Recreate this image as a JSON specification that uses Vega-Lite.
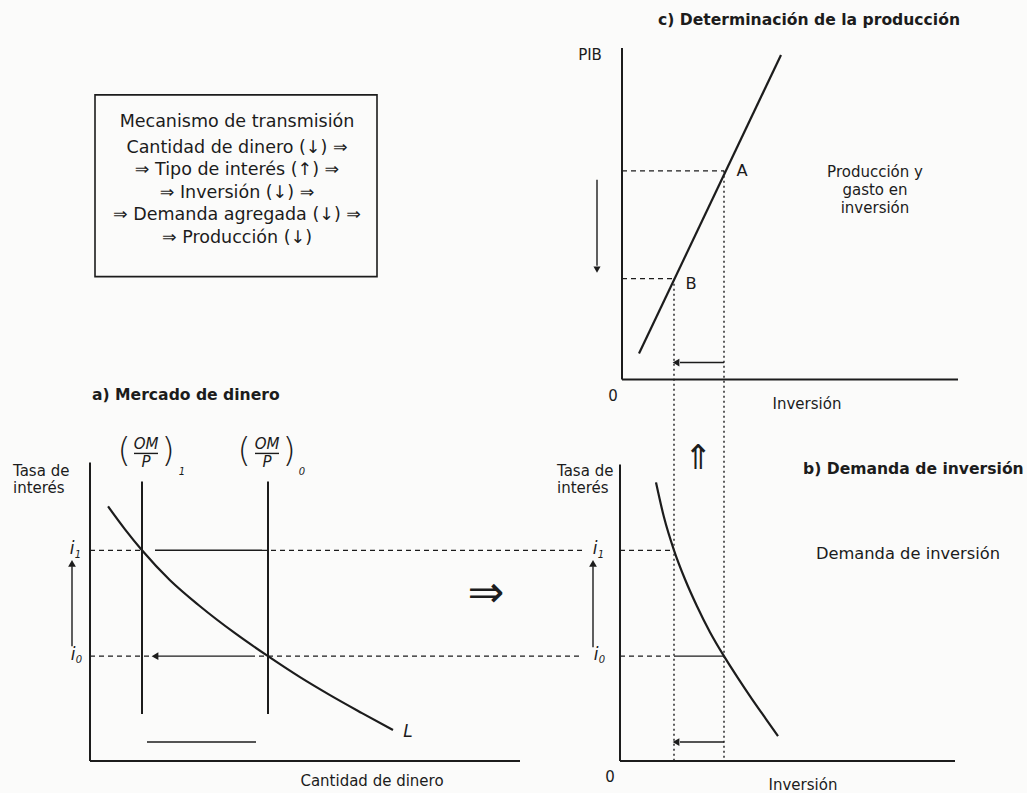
{
  "$schema": "https://vega.github.io/schema/vega-lite/v6.json",
  "width": 1027,
  "height": 793,
  "padding": 0,
  "autosize": {"type": "fit", "contains": "padding"},
  "background": "#fbfbfa",
  "config": {"view": {"stroke": null}},
  "datasets": {
    "box": [{"x": 95, "y": 95, "x2": 377, "y2": 277}],
    "segments": [
      {"kind": "axis", "x": 90, "y": 463, "x2": 90, "y2": 762},
      {"kind": "axis", "x": 90, "y": 762, "x2": 520, "y2": 762},
      {"kind": "axis", "x": 142, "y": 482, "x2": 142, "y2": 715},
      {"kind": "axis", "x": 268, "y": 482, "x2": 268, "y2": 715},
      {"kind": "axis", "x": 620, "y": 465, "x2": 620, "y2": 762},
      {"kind": "axis", "x": 620, "y": 762, "x2": 955, "y2": 762},
      {"kind": "axis", "x": 622, "y": 48, "x2": 622, "y2": 380},
      {"kind": "axis", "x": 622, "y": 380, "x2": 958, "y2": 380},
      {"kind": "thin", "x": 147, "y": 743, "x2": 256, "y2": 743},
      {"kind": "thin", "x": 155, "y": 551, "x2": 262, "y2": 551},
      {"kind": "thin", "x": 158, "y": 657, "x2": 250, "y2": 657},
      {"kind": "thin", "x": 72, "y": 647, "x2": 72, "y2": 567},
      {"kind": "thin", "x": 674, "y": 657, "x2": 724, "y2": 657},
      {"kind": "thin", "x": 680, "y": 743, "x2": 724, "y2": 743},
      {"kind": "thin", "x": 593, "y": 648, "x2": 593, "y2": 567},
      {"kind": "thin", "x": 680, "y": 363, "x2": 724, "y2": 363},
      {"kind": "thin", "x": 597, "y": 180, "x2": 597, "y2": 266},
      {"kind": "thin", "x": 134, "y": 454, "x2": 158, "y2": 454},
      {"kind": "thin", "x": 255, "y": 454, "x2": 279, "y2": 454},
      {"kind": "dashed", "x": 90, "y": 551, "x2": 142, "y2": 551},
      {"kind": "dashed", "x": 262, "y": 551, "x2": 582, "y2": 551},
      {"kind": "dashed", "x": 90, "y": 657, "x2": 152, "y2": 657},
      {"kind": "dashed", "x": 250, "y": 657, "x2": 580, "y2": 657},
      {"kind": "dashed", "x": 620, "y": 551, "x2": 674, "y2": 551},
      {"kind": "dashed", "x": 620, "y": 657, "x2": 674, "y2": 657},
      {"kind": "dashed", "x": 622, "y": 171, "x2": 724, "y2": 171},
      {"kind": "dashed", "x": 622, "y": 279, "x2": 674, "y2": 279},
      {"kind": "dotted", "x": 724, "y": 171, "x2": 724, "y2": 762},
      {"kind": "dotted", "x": 674, "y": 279, "x2": 674, "y2": 762}
    ],
    "curves": [
      {"curve": "L", "x": 108, "y": 507},
      {"curve": "L", "x": 125, "y": 530},
      {"curve": "L", "x": 142, "y": 551},
      {"curve": "L", "x": 170, "y": 581},
      {"curve": "L", "x": 200, "y": 607},
      {"curve": "L", "x": 235, "y": 634},
      {"curve": "L", "x": 268, "y": 657},
      {"curve": "L", "x": 300, "y": 678},
      {"curve": "L", "x": 330, "y": 696},
      {"curve": "L", "x": 362, "y": 714},
      {"curve": "L", "x": 393, "y": 731},
      {"curve": "DI", "x": 656, "y": 483},
      {"curve": "DI", "x": 664, "y": 518},
      {"curve": "DI", "x": 674, "y": 551},
      {"curve": "DI", "x": 685, "y": 580},
      {"curve": "DI", "x": 697, "y": 607},
      {"curve": "DI", "x": 710, "y": 633},
      {"curve": "DI", "x": 724, "y": 657},
      {"curve": "DI", "x": 738, "y": 679},
      {"curve": "DI", "x": 752, "y": 700},
      {"curve": "DI", "x": 766, "y": 720},
      {"curve": "DI", "x": 778, "y": 737},
      {"curve": "PIB", "x": 639, "y": 354},
      {"curve": "PIB", "x": 781, "y": 55}
    ],
    "heads": [
      {"dir": "left", "x": 155, "y": 657},
      {"dir": "left", "x": 676, "y": 743},
      {"dir": "left", "x": 676, "y": 363},
      {"dir": "up", "x": 72, "y": 564},
      {"dir": "up", "x": 593, "y": 564},
      {"dir": "down", "x": 597, "y": 270}
    ],
    "texts": [
      {"role": "box", "x": 237, "y": 122, "t": "Mecanismo de transmisión"},
      {"role": "box", "x": 237, "y": 148, "t": "Cantidad de dinero (↓) ⇒"},
      {"role": "box", "x": 237, "y": 170, "t": "⇒ Tipo de interés (↑) ⇒"},
      {"role": "box", "x": 237, "y": 193, "t": "⇒ Inversión (↓) ⇒"},
      {"role": "box", "x": 237, "y": 215, "t": "⇒ Demanda agregada (↓) ⇒"},
      {"role": "box", "x": 237, "y": 238, "t": "⇒ Producción (↓)"},
      {"role": "titleC", "x": 809, "y": 20, "t": "c) Determinación de la producción"},
      {"role": "titleL", "x": 92, "y": 395, "t": "a) Mercado de dinero"},
      {"role": "titleL", "x": 803, "y": 470, "t": "b) Demanda de inversión"},
      {"role": "labelL", "x": 13, "y": 472, "t": "Tasa de"},
      {"role": "labelL", "x": 13, "y": 489, "t": "interés"},
      {"role": "labelL", "x": 557, "y": 472, "t": "Tasa de"},
      {"role": "labelL", "x": 557, "y": 489, "t": "interés"},
      {"role": "label", "x": 372, "y": 782, "t": "Cantidad de dinero"},
      {"role": "label", "x": 803, "y": 786, "t": "Inversión"},
      {"role": "label", "x": 807, "y": 405, "t": "Inversión"},
      {"role": "label", "x": 590, "y": 55, "t": "PIB"},
      {"role": "label", "x": 610, "y": 778, "t": "0"},
      {"role": "label", "x": 613, "y": 396, "t": "0"},
      {"role": "note3", "x": 875, "y": 172, "t": "Producción y"},
      {"role": "note3", "x": 875, "y": 190, "t": "gasto en"},
      {"role": "note3", "x": 875, "y": 208, "t": "inversión"},
      {"role": "note", "x": 908, "y": 555, "t": "Demanda de inversión"},
      {"role": "note", "x": 742, "y": 171, "t": "A"},
      {"role": "note", "x": 691, "y": 284, "t": "B"},
      {"role": "ital", "x": 408, "y": 733, "t": "L"},
      {"role": "ital", "x": 72, "y": 550, "t": "i"},
      {"role": "ital", "x": 73, "y": 656, "t": "i"},
      {"role": "ital", "x": 595, "y": 550, "t": "i"},
      {"role": "ital", "x": 596, "y": 656, "t": "i"},
      {"role": "sub", "x": 78, "y": 556, "t": "1"},
      {"role": "sub", "x": 79, "y": 661, "t": "0"},
      {"role": "sub", "x": 601, "y": 556, "t": "1"},
      {"role": "sub", "x": 602, "y": 661, "t": "0"},
      {"role": "frac", "x": 146, "y": 445, "t": "OM"},
      {"role": "frac", "x": 146, "y": 463, "t": "P"},
      {"role": "frac", "x": 267, "y": 445, "t": "OM"},
      {"role": "frac", "x": 267, "y": 463, "t": "P"},
      {"role": "sub", "x": 182, "y": 473, "t": "1"},
      {"role": "sub", "x": 302, "y": 473, "t": "0"},
      {"role": "paren", "x": 124, "y": 453, "t": "("},
      {"role": "paren", "x": 168, "y": 453, "t": ")"},
      {"role": "paren", "x": 244, "y": 453, "t": "("},
      {"role": "paren", "x": 289, "y": 453, "t": ")"},
      {"role": "bigR", "x": 486, "y": 595, "t": "⇒"},
      {"role": "bigU", "x": 698, "y": 460, "t": "⇑"}
    ]
  },
  "layer": [
    {
      "data": {"name": "box"},
      "mark": {"type": "rect", "fillOpacity": 0, "stroke": "#1c1c1c", "strokeWidth": 1.6},
      "encoding": {
        "x": {"field": "x", "type": "quantitative", "scale": {"domain": [0, 1027], "nice": false, "zero": false}, "axis": null},
        "y": {"field": "y", "type": "quantitative", "scale": {"domain": [0, 793], "reverse": true, "nice": false, "zero": false}, "axis": null},
        "x2": {"field": "x2"},
        "y2": {"field": "y2"}
      }
    },
    {
      "data": {"name": "segments"},
      "transform": [{"filter": "datum.kind === 'axis'"}],
      "mark": {"type": "rule", "color": "#1c1c1c", "strokeWidth": 2},
      "encoding": {
        "x": {"field": "x", "type": "quantitative"},
        "y": {"field": "y", "type": "quantitative"},
        "x2": {"field": "x2"},
        "y2": {"field": "y2"}
      }
    },
    {
      "data": {"name": "segments"},
      "transform": [{"filter": "datum.kind === 'thin'"}],
      "mark": {"type": "rule", "color": "#1c1c1c", "strokeWidth": 1.4},
      "encoding": {
        "x": {"field": "x", "type": "quantitative"},
        "y": {"field": "y", "type": "quantitative"},
        "x2": {"field": "x2"},
        "y2": {"field": "y2"}
      }
    },
    {
      "data": {"name": "segments"},
      "transform": [{"filter": "datum.kind === 'dashed'"}],
      "mark": {"type": "rule", "color": "#1c1c1c", "strokeWidth": 1.3, "strokeDash": [5, 4]},
      "encoding": {
        "x": {"field": "x", "type": "quantitative"},
        "y": {"field": "y", "type": "quantitative"},
        "x2": {"field": "x2"},
        "y2": {"field": "y2"}
      }
    },
    {
      "data": {"name": "segments"},
      "transform": [{"filter": "datum.kind === 'dotted'"}],
      "mark": {"type": "rule", "color": "#1c1c1c", "strokeWidth": 1.4, "strokeDash": [2, 3]},
      "encoding": {
        "x": {"field": "x", "type": "quantitative"},
        "y": {"field": "y", "type": "quantitative"},
        "x2": {"field": "x2"},
        "y2": {"field": "y2"}
      }
    },
    {
      "data": {"name": "curves"},
      "mark": {"type": "line", "color": "#1c1c1c", "strokeWidth": 2.2, "interpolate": "monotone"},
      "encoding": {
        "x": {"field": "x", "type": "quantitative"},
        "y": {"field": "y", "type": "quantitative"},
        "detail": {"field": "curve"},
        "order": {"field": "x", "type": "quantitative"}
      }
    },
    {
      "data": {"name": "heads"},
      "transform": [{"filter": "datum.dir === 'left'"}],
      "mark": {"type": "point", "shape": "triangle-left", "filled": true, "color": "#1c1c1c", "size": 60, "opacity": 1},
      "encoding": {"x": {"field": "x", "type": "quantitative"}, "y": {"field": "y", "type": "quantitative"}}
    },
    {
      "data": {"name": "heads"},
      "transform": [{"filter": "datum.dir === 'up'"}],
      "mark": {"type": "point", "shape": "triangle-up", "filled": true, "color": "#1c1c1c", "size": 60, "opacity": 1},
      "encoding": {"x": {"field": "x", "type": "quantitative"}, "y": {"field": "y", "type": "quantitative"}}
    },
    {
      "data": {"name": "heads"},
      "transform": [{"filter": "datum.dir === 'down'"}],
      "mark": {"type": "point", "shape": "triangle-down", "filled": true, "color": "#1c1c1c", "size": 50, "opacity": 1},
      "encoding": {"x": {"field": "x", "type": "quantitative"}, "y": {"field": "y", "type": "quantitative"}}
    },
    {
      "data": {"name": "texts"},
      "transform": [{"filter": "datum.role === 'box'"}],
      "mark": {"type": "text", "font": "DejaVu Sans", "fontSize": 17.5, "align": "center", "baseline": "middle", "color": "#1c1c1c"},
      "encoding": {"x": {"field": "x", "type": "quantitative"}, "y": {"field": "y", "type": "quantitative"}, "text": {"field": "t"}}
    },
    {
      "data": {"name": "texts"},
      "transform": [{"filter": "datum.role === 'titleC'"}],
      "mark": {"type": "text", "font": "DejaVu Sans", "fontWeight": "bold", "fontSize": 15.6, "align": "center", "baseline": "middle", "color": "#1c1c1c"},
      "encoding": {"x": {"field": "x", "type": "quantitative"}, "y": {"field": "y", "type": "quantitative"}, "text": {"field": "t"}}
    },
    {
      "data": {"name": "texts"},
      "transform": [{"filter": "datum.role === 'titleL'"}],
      "mark": {"type": "text", "font": "DejaVu Sans", "fontWeight": "bold", "fontSize": 15.6, "align": "left", "baseline": "middle", "color": "#1c1c1c"},
      "encoding": {"x": {"field": "x", "type": "quantitative"}, "y": {"field": "y", "type": "quantitative"}, "text": {"field": "t"}}
    },
    {
      "data": {"name": "texts"},
      "transform": [{"filter": "datum.role === 'labelL'"}],
      "mark": {"type": "text", "font": "DejaVu Sans", "fontSize": 15, "align": "left", "baseline": "middle", "color": "#1c1c1c"},
      "encoding": {"x": {"field": "x", "type": "quantitative"}, "y": {"field": "y", "type": "quantitative"}, "text": {"field": "t"}}
    },
    {
      "data": {"name": "texts"},
      "transform": [{"filter": "datum.role === 'label'"}],
      "mark": {"type": "text", "font": "DejaVu Sans", "fontSize": 15, "align": "center", "baseline": "middle", "color": "#1c1c1c"},
      "encoding": {"x": {"field": "x", "type": "quantitative"}, "y": {"field": "y", "type": "quantitative"}, "text": {"field": "t"}}
    },
    {
      "data": {"name": "texts"},
      "transform": [{"filter": "datum.role === 'note'"}],
      "mark": {"type": "text", "font": "DejaVu Sans", "fontSize": 16.3, "align": "center", "baseline": "middle", "color": "#1c1c1c"},
      "encoding": {"x": {"field": "x", "type": "quantitative"}, "y": {"field": "y", "type": "quantitative"}, "text": {"field": "t"}}
    },
    {
      "data": {"name": "texts"},
      "transform": [{"filter": "datum.role === 'note3'"}],
      "mark": {"type": "text", "font": "DejaVu Sans", "fontSize": 15, "align": "center", "baseline": "middle", "color": "#1c1c1c"},
      "encoding": {"x": {"field": "x", "type": "quantitative"}, "y": {"field": "y", "type": "quantitative"}, "text": {"field": "t"}}
    },
    {
      "data": {"name": "texts"},
      "transform": [{"filter": "datum.role === 'ital'"}],
      "mark": {"type": "text", "font": "DejaVu Sans", "fontStyle": "italic", "fontSize": 17, "align": "center", "baseline": "middle", "color": "#1c1c1c"},
      "encoding": {"x": {"field": "x", "type": "quantitative"}, "y": {"field": "y", "type": "quantitative"}, "text": {"field": "t"}}
    },
    {
      "data": {"name": "texts"},
      "transform": [{"filter": "datum.role === 'sub'"}],
      "mark": {"type": "text", "font": "DejaVu Sans", "fontStyle": "italic", "fontSize": 10, "align": "center", "baseline": "middle", "color": "#1c1c1c"},
      "encoding": {"x": {"field": "x", "type": "quantitative"}, "y": {"field": "y", "type": "quantitative"}, "text": {"field": "t"}}
    },
    {
      "data": {"name": "texts"},
      "transform": [{"filter": "datum.role === 'frac'"}],
      "mark": {"type": "text", "font": "DejaVu Sans", "fontStyle": "italic", "fontSize": 15, "align": "center", "baseline": "middle", "color": "#1c1c1c"},
      "encoding": {"x": {"field": "x", "type": "quantitative"}, "y": {"field": "y", "type": "quantitative"}, "text": {"field": "t"}}
    },
    {
      "data": {"name": "texts"},
      "transform": [{"filter": "datum.role === 'paren'"}],
      "mark": {"type": "text", "font": "DejaVu Sans", "fontWeight": 200, "fontSize": 34, "align": "center", "baseline": "middle", "color": "#1c1c1c"},
      "encoding": {"x": {"field": "x", "type": "quantitative"}, "y": {"field": "y", "type": "quantitative"}, "text": {"field": "t"}}
    },
    {
      "data": {"name": "texts"},
      "transform": [{"filter": "datum.role === 'bigR'"}],
      "mark": {"type": "text", "font": "DejaVu Sans", "fontSize": 44, "align": "center", "baseline": "middle", "color": "#1c1c1c"},
      "encoding": {"x": {"field": "x", "type": "quantitative"}, "y": {"field": "y", "type": "quantitative"}, "text": {"field": "t"}}
    },
    {
      "data": {"name": "texts"},
      "transform": [{"filter": "datum.role === 'bigU'"}],
      "mark": {"type": "text", "font": "DejaVu Sans", "fontSize": 34, "align": "center", "baseline": "middle", "color": "#1c1c1c"},
      "encoding": {"x": {"field": "x", "type": "quantitative"}, "y": {"field": "y", "type": "quantitative"}, "text": {"field": "t"}}
    }
  ]
}
